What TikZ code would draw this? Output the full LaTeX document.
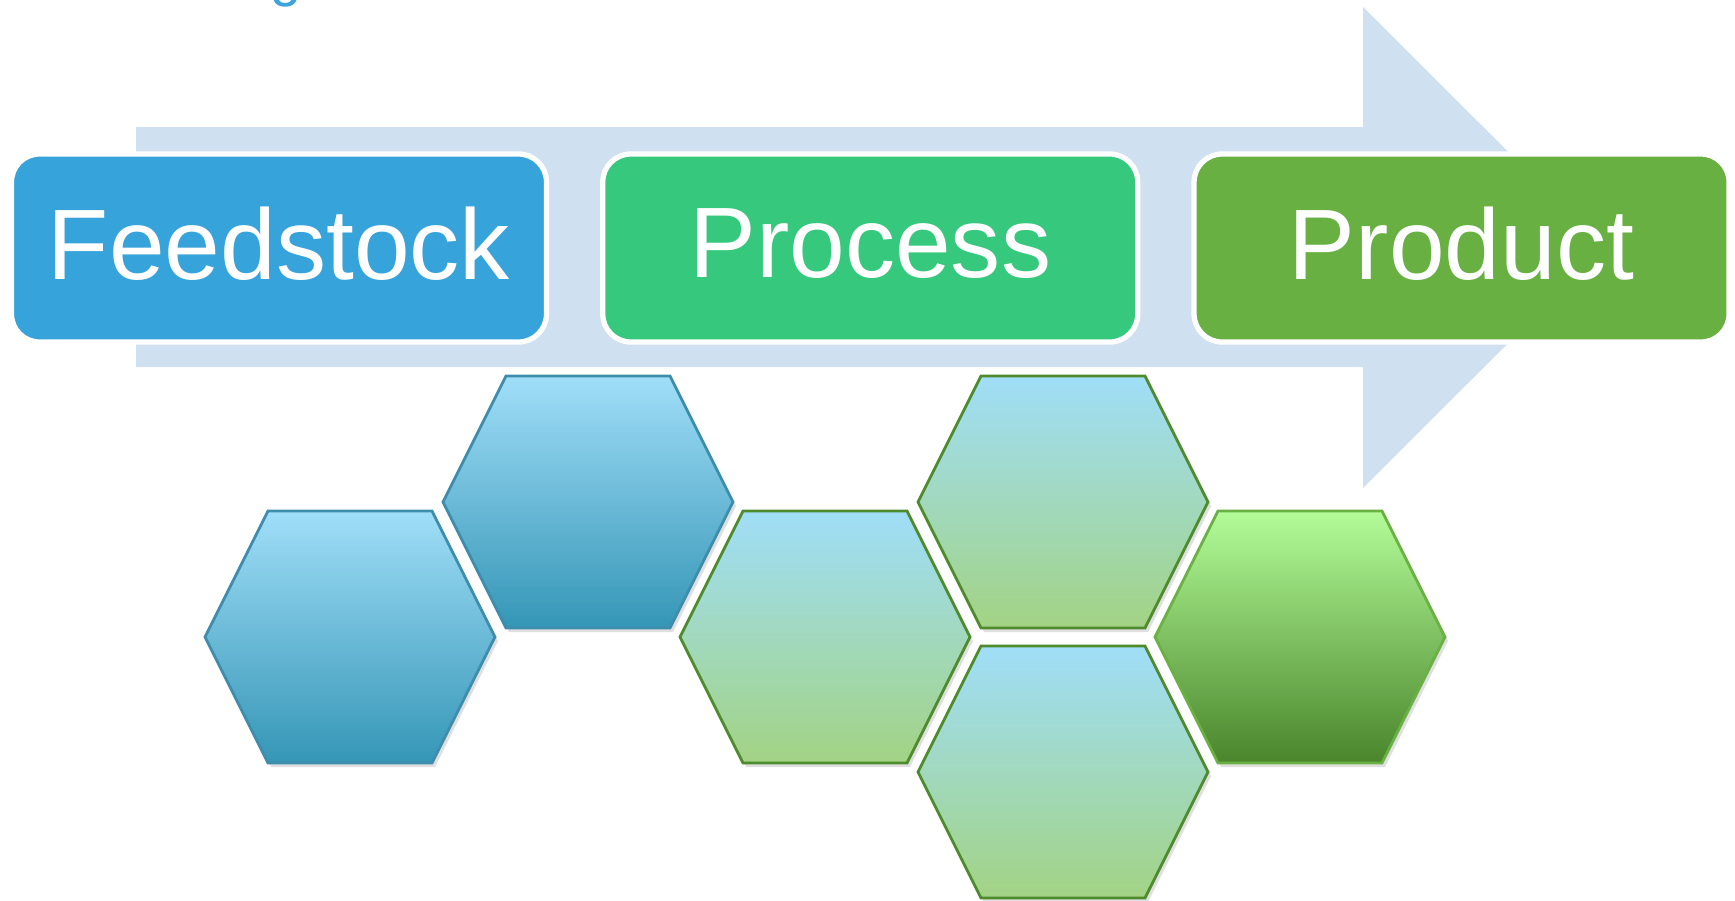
\documentclass[tikz,border=0pt]{standalone}
\usepackage{fontspec}
\setmainfont{Liberation Sans}
\usepackage{tikz}
\usetikzlibrary{positioning}
\usetikzlibrary{shadows}
\definecolor{arrowblue}{HTML}{CFE0F0}
\definecolor{feedblue}{HTML}{37A3DB}
\definecolor{procgreen}{HTML}{36C97E}
\definecolor{prodgreen}{HTML}{69B042}
\definecolor{hextop}{HTML}{A0DEF8}
\definecolor{hexblue}{HTML}{3596B6}
\definecolor{hexblueline}{HTML}{3E8DAC}
\definecolor{hexmix}{HTML}{A2D384}
\definecolor{hexgreenline}{HTML}{4E8B2C}
\definecolor{hexlime}{HTML}{B3FC99}
\definecolor{hexdark}{HTML}{4A852B}
\definecolor{hexlimeline}{HTML}{6AB143}
\definecolor{titleblue}{HTML}{3DA5DC}
\newcommand{\createhex}[3]{\shadedraw[#1, shift={( #2 , #3 )}] (-1.45,0) -- (-0.82,1.26) -- (0.82,1.26) -- (1.45,0) -- (0.82,-1.26) -- (-0.82,-1.26) -- cycle;}

\begin{document}
\begin{tikzpicture}[
        stagebox/.style={rounded corners=0.28cm, draw=white, line width=1.5pt, text=white,
            minimum width=5.35cm, minimum height=1.88cm, inner sep=0pt, text depth=0.1cm,
            font=\fontsize{28.5}{30}\selectfont},
        hexcell/.style={line width=0.8pt,
            drop shadow={opacity=0.25, shadow xshift=0.03cm, shadow yshift=-0.04cm}},
        bluecell/.style={hexcell, draw=hexblueline, top color=hextop, bottom color=hexblue},
        mixcell/.style={hexcell, draw=hexgreenline, top color=hextop, bottom color=hexmix},
        greencell/.style={hexcell, draw=hexlimeline, top color=hexlime, bottom color=hexdark}]
        \useasboundingbox (0,0) rectangle (17.35,-9);
        % tail of the title above the page
        \node[anchor=base, text=titleblue, font=\fontsize{16}{18}\selectfont, inner sep=0pt] (title) at (2.86,0.05) {g};
        %big arrow
        \fill[arrowblue] (1.36,-1.27) -- (13.63,-1.27) -- (13.63,-0.07) -- (16.04,-2.475)
            -- (13.63,-4.88) -- (13.63,-3.67) -- (1.36,-3.67) -- cycle;
        %stages
        \node[stagebox, fill=feedblue] (feed) at (2.79,-2.48) {Feedstock};
        \node[stagebox, fill=procgreen, right=0.51cm of feed] (proc) {Process};
        \node[stagebox, fill=prodgreen, right=0.51cm of proc] (prod) {Product};
        %cells
        \createhex{bluecell}{3.50}{-6.37}
        \createhex{bluecell}{5.88}{-5.02}
        \createhex{mixcell}{8.25}{-6.37}
        \createhex{mixcell}{10.63}{-5.02}
        \createhex{mixcell}{10.63}{-7.72}
        \createhex{greencell}{13.00}{-6.37}
    \end{tikzpicture}
\end{document}
